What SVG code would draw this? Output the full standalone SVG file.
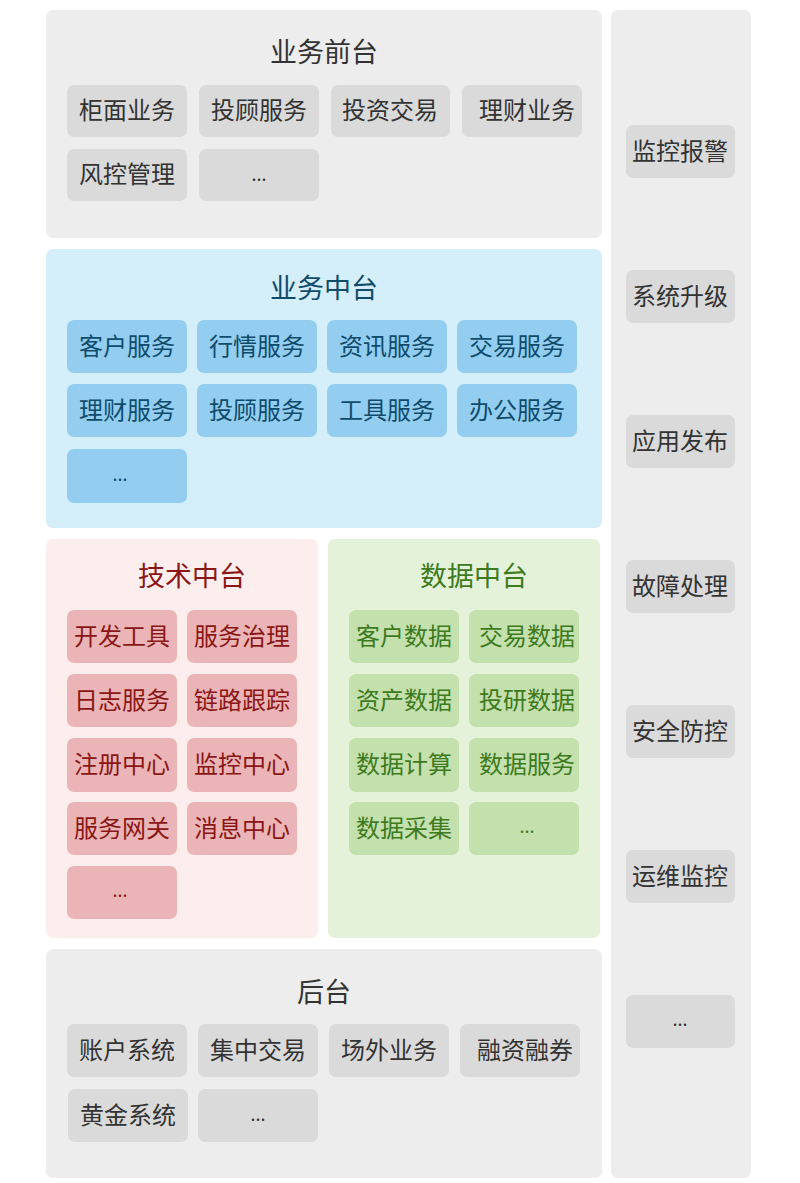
<svg xmlns="http://www.w3.org/2000/svg" width="800" height="1183" viewBox="0 0 800 1183">
<style>
text{font-family:"Noto Sans CJK SC","Noto Sans",sans-serif;text-anchor:middle}
.t{font-size:27px}
.b{font-size:24px}
.d{font-size:18px}
.pg{fill:#ededed}
.bg{fill:#dadada}
.pb{fill:#d5effa}
.bb{fill:#93cdf0}
.pr{fill:#fdeeee}
.br{fill:#ebb5b7}
.pgr{fill:#e4f2da}
.bgr{fill:#c3e0ad}
.cg{fill:#333333}
.cb{fill:#0f4c6c}
.cr{fill:#8a1616}
.cgr{fill:#3e7a20}
</style>
<rect width="800" height="1183" fill="#ffffff"/>

<g id="front">
<rect class="pg" x="46" y="10" width="556" height="228" rx="7"/>
<text class="t cg" x="324" y="62">业务前台</text>
<g class="cg">
<rect class="bg" x="67" y="85" width="120" height="52" rx="7"/><text class="b" x="127" y="119">柜面业务</text>
<rect class="bg" x="199" y="85" width="120" height="52" rx="7"/><text class="b" x="259" y="119">投顾服务</text>
<rect class="bg" x="331" y="85" width="119" height="52" rx="7"/><text class="b" x="390" y="119">投资交易</text>
<rect class="bg" x="462" y="85" width="120" height="52" rx="7"/><text class="b" x="527" y="119">理财业务</text>
<rect class="bg" x="67" y="149" width="120" height="52" rx="7"/><text class="b" x="127" y="183">风控管理</text>
<rect class="bg" x="199" y="149" width="120" height="52" rx="7"/><text class="d" x="259" y="181">...</text>
</g>
</g>

<g id="biz-middle">
<rect class="pb" x="46" y="249" width="556" height="279" rx="7"/>
<text class="t cb" x="324" y="298">业务中台</text>
<g class="cb">
<rect class="bb" x="67" y="320" width="120" height="53" rx="7"/><text class="b" x="127" y="355">客户服务</text>
<rect class="bb" x="197" y="320" width="120" height="53" rx="7"/><text class="b" x="257" y="355">行情服务</text>
<rect class="bb" x="327" y="320" width="120" height="53" rx="7"/><text class="b" x="387" y="355">资讯服务</text>
<rect class="bb" x="457" y="320" width="120" height="53" rx="7"/><text class="b" x="517" y="355">交易服务</text>
<rect class="bb" x="67" y="384" width="120" height="53" rx="7"/><text class="b" x="127" y="419">理财服务</text>
<rect class="bb" x="197" y="384" width="120" height="53" rx="7"/><text class="b" x="257" y="419">投顾服务</text>
<rect class="bb" x="327" y="384" width="120" height="53" rx="7"/><text class="b" x="387" y="419">工具服务</text>
<rect class="bb" x="457" y="384" width="120" height="53" rx="7"/><text class="b" x="517" y="419">办公服务</text>
<rect class="bb" x="67" y="449" width="120" height="54" rx="7"/><text class="d" x="120" y="481">...</text>
</g>
</g>

<g id="tech-middle">
<rect class="pr" x="46" y="539" width="272" height="399" rx="7"/>
<text class="t cr" x="192" y="586">技术中台</text>
<g class="cr">
<rect class="br" x="67" y="610" width="110" height="53" rx="7"/><text class="b" x="122" y="645">开发工具</text>
<rect class="br" x="187" y="610" width="110" height="53" rx="7"/><text class="b" x="242" y="645">服务治理</text>
<rect class="br" x="67" y="674" width="110" height="53" rx="7"/><text class="b" x="122" y="709">日志服务</text>
<rect class="br" x="187" y="674" width="110" height="53" rx="7"/><text class="b" x="242" y="709">链路跟踪</text>
<rect class="br" x="67" y="738" width="110" height="54" rx="7"/><text class="b" x="122" y="773">注册中心</text>
<rect class="br" x="187" y="738" width="110" height="54" rx="7"/><text class="b" x="242" y="773">监控中心</text>
<rect class="br" x="67" y="802" width="110" height="53" rx="7"/><text class="b" x="122" y="837">服务网关</text>
<rect class="br" x="187" y="802" width="110" height="53" rx="7"/><text class="b" x="242" y="837">消息中心</text>
<rect class="br" x="67" y="866" width="110" height="53" rx="7"/><text class="d" x="120" y="897">...</text>
</g>
</g>

<g id="data-middle">
<rect class="pgr" x="328" y="539" width="272" height="399" rx="7"/>
<text class="t cgr" x="474" y="586">数据中台</text>
<g class="cgr">
<rect class="bgr" x="349" y="610" width="110" height="53" rx="7"/><text class="b" x="404" y="645">客户数据</text>
<rect class="bgr" x="469" y="610" width="110" height="53" rx="7"/><text class="b" x="527" y="645">交易数据</text>
<rect class="bgr" x="349" y="674" width="110" height="53" rx="7"/><text class="b" x="404" y="709">资产数据</text>
<rect class="bgr" x="469" y="674" width="110" height="53" rx="7"/><text class="b" x="527" y="709">投研数据</text>
<rect class="bgr" x="349" y="738" width="110" height="54" rx="7"/><text class="b" x="404" y="773">数据计算</text>
<rect class="bgr" x="469" y="738" width="110" height="54" rx="7"/><text class="b" x="527" y="773">数据服务</text>
<rect class="bgr" x="349" y="802" width="110" height="53" rx="7"/><text class="b" x="404" y="837">数据采集</text>
<rect class="bgr" x="469" y="802" width="110" height="53" rx="7"/><text class="d" x="527" y="833">...</text>
</g>
</g>

<g id="back">
<rect class="pg" x="46" y="949" width="556" height="229" rx="7"/>
<text class="t cg" x="324" y="1002">后台</text>
<g class="cg">
<rect class="bg" x="67" y="1024" width="120" height="53" rx="7"/><text class="b" x="127" y="1059">账户系统</text>
<rect class="bg" x="198" y="1024" width="120" height="53" rx="7"/><text class="b" x="258" y="1059">集中交易</text>
<rect class="bg" x="329" y="1024" width="120" height="53" rx="7"/><text class="b" x="389" y="1059">场外业务</text>
<rect class="bg" x="460" y="1024" width="120" height="53" rx="7"/><text class="b" x="525" y="1059">融资融券</text>
<rect class="bg" x="68" y="1089" width="120" height="53" rx="7"/><text class="b" x="128" y="1124">黄金系统</text>
<rect class="bg" x="198" y="1089" width="120" height="53" rx="7"/><text class="d" x="258" y="1121">...</text>
</g>
</g>

<g id="ops">
<rect class="pg" x="611" y="10" width="140" height="1168" rx="7"/>
<g class="cg">
<rect class="bg" x="626" y="125" width="109" height="53" rx="7"/><text class="b" x="680" y="160">监控报警</text>
<rect class="bg" x="626" y="270" width="109" height="53" rx="7"/><text class="b" x="680" y="305">系统升级</text>
<rect class="bg" x="626" y="415" width="109" height="53" rx="7"/><text class="b" x="680" y="450">应用发布</text>
<rect class="bg" x="626" y="560" width="109" height="53" rx="7"/><text class="b" x="680" y="595">故障处理</text>
<rect class="bg" x="626" y="705" width="109" height="53" rx="7"/><text class="b" x="680" y="740">安全防控</text>
<rect class="bg" x="626" y="850" width="109" height="53" rx="7"/><text class="b" x="680" y="885">运维监控</text>
<rect class="bg" x="626" y="995" width="109" height="53" rx="7"/><text class="d" x="680" y="1026">...</text>
</g>
</g>
</svg>
